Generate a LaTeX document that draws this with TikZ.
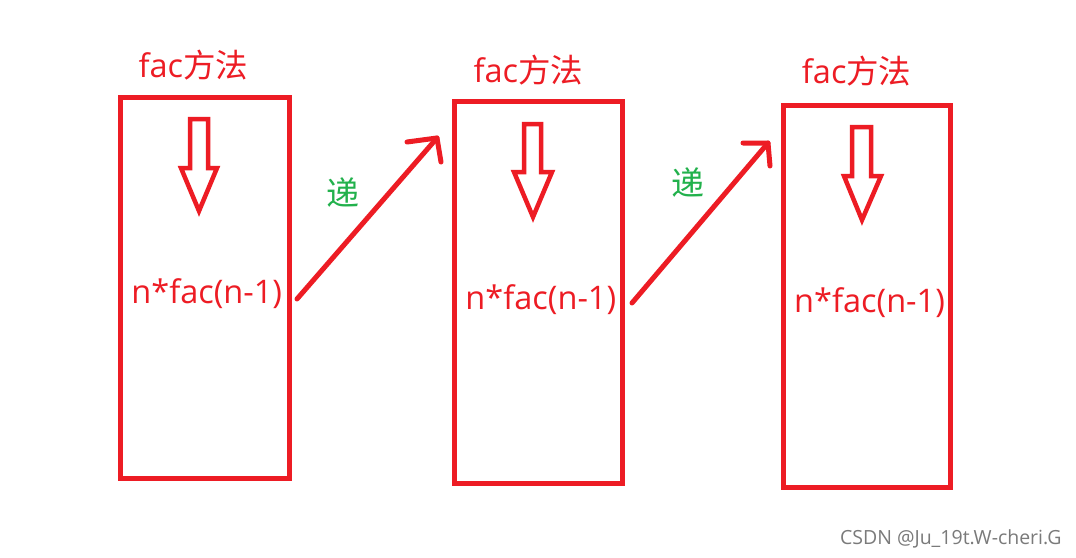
\documentclass[tikz,border=0pt]{standalone}
\usepackage{fontspec}
\setmainfont{Open Sans}
\newfontfamily\cjk{Noto Sans CJK SC}
\definecolor{pred}{HTML}{ED1C24}
\definecolor{pgreen}{HTML}{22B14C}
\definecolor{wmgray}{HTML}{7A7A7A}
\tikzset{
  framebox/.style={draw=pred, line width=5pt, inner sep=0pt, rectangle},
  title/.style={text=pred, inner sep=0pt, anchor=base, font=\fontsize{32.5}{32.5}\selectfont},
  formula/.style={text=pred, inner sep=0pt, anchor=base, font=\fontsize{32.5}{32.5}\selectfont},
  di/.style={text=pgreen, inner sep=0pt, font=\cjk\fontsize{33}{33}\selectfont},
  hollow/.style={draw=pred, line width=4.5pt, line join=miter},
  recur/.style={draw=pred, line width=5pt, line cap=round, line join=round},
}
\begin{document}
\begin{tikzpicture}[x=1pt,y=-1pt]
\useasboundingbox (0,0) rectangle (1076,557);
\fill[white] (0,0) rectangle (1076,557);

% boxes
\node[framebox, minimum width=169.5pt, minimum height=381pt] (b1) at (204.75,288) {};
\node[framebox, minimum width=168pt, minimum height=381.8pt] (b2) at (538,292.6) {};
\node[framebox, minimum width=167.5pt, minimum height=381.7pt] (b3) at (866.75,296.65) {};

% titles
\node[title] (t1) at (193.3,77) {fac{\cjk 方法}};
\node[title] (t2) at (528.3,82) {fac{\cjk 方法}};
\node[title] (t3) at (856.7,83.5) {fac{\cjk 方法}};

% formulas
\node[formula] (f1) at (206.7,303.5) {n*fac(n-1)};
\node[formula] (f2) at (540.8,309) {n*fac(n-1)};
\node[formula] (f3) at (869.5,312.5) {n*fac(n-1)};

% hollow down arrows
\draw[hollow] (190,119) -- (208,119) -- (208,168) -- (217,168) -- (199,211) -- (181,168) -- (190,168) -- cycle;
\draw[hollow] (524,124) -- (541,124) -- (541,172) -- (552,172) -- (533,217) -- (514,172) -- (524,172) -- cycle;
\draw[hollow] (852,127) -- (871,127) -- (871,176) -- (881,176) -- (862,220) -- (844,176) -- (852,176) -- cycle;

% recursion arrows
\coordinate (s1) at (297,299);
\coordinate (e1) at (437,138);
\coordinate (e1a) at (407,142);
\coordinate (e1b) at (441,162);
\draw[recur] (s1) -- (e1);
\draw[recur] (e1a) -- (e1) -- (e1b);

\coordinate (s2) at (632,303);
\coordinate (e2) at (768,143);
\coordinate (e2a) at (743,143);
\coordinate (e2b) at (770,166);
\draw[recur] (s2) -- (e2);
\draw[recur] (e2a) -- (e2) -- (e2b);

% labels
\node[di] (d1) at (342.5,193) {递};
\node[di] (d2) at (687.5,182.5) {递};

% watermark
\node[text=wmgray, inner sep=0pt, anchor=base east, font=\fontsize{19.5}{19.5}\selectfont] (wm) at (1061.7,544) {CSDN @Ju\_19t.W-cheri.G};
\end{tikzpicture}
\end{document}
